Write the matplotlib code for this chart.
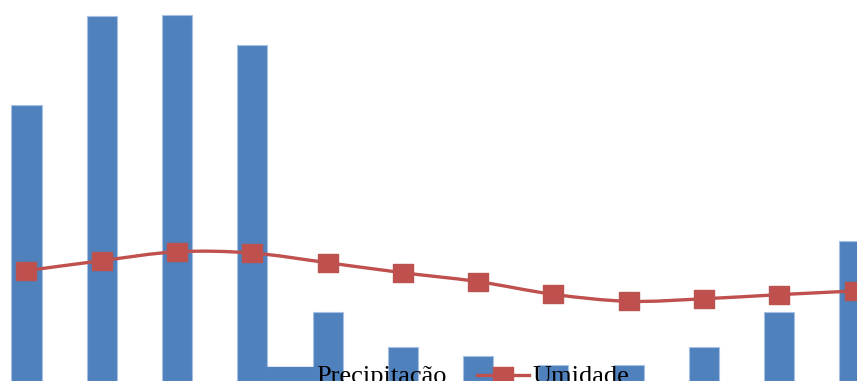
import matplotlib
matplotlib.use('Agg')
import matplotlib.pyplot as plt
from matplotlib.path import Path
from matplotlib.patches import PathPatch, Patch, Rectangle
from matplotlib.lines import Line2D
from matplotlib.legend_handler import HandlerPatch
from matplotlib.font_manager import FontProperties
import numpy as np

## dados
meses = ['Jan', 'Fev', 'Mar', 'Abr', 'Mai', 'Jun', 'Jul', 'Ago', 'Set', 'Out', 'Nov', 'Dez']
precipitacao = [290, 383, 384, 353, 72, 36, 26, 17, 17, 36, 72, 147]
umidade = [69.5, 75.8, 81.4, 80.6, 74.5, 68.2, 62.6, 54.6, 50.2, 51.8, 54.4, 56.7]
rotulos = ['Precipitação', 'Umidade']

azul = '#4F81BD'
borda = '#A7C0E3'
vermelho = '#C0504D'


def curva_suave(x, y):
    # linha suavizada estilo Excel (Bezier tipo Catmull-Rom)
    pts = np.column_stack([x, y]).astype(float)
    n = len(pts)
    verts = [pts[0]]
    codes = [Path.MOVETO]
    for i in range(n - 1):
        p0 = pts[i - 1] if i > 0 else pts[i]
        p3 = pts[i + 2] if i + 2 < n else pts[i + 1]
        c1 = pts[i] + (pts[i + 1] - p0) / 6
        c2 = pts[i + 1] - (p3 - pts[i]) / 6
        verts += [c1, c2, pts[i + 1]]
        codes += [Path.CURVE4] * 3
    return Path(verts, codes)


def patch_legenda(legend, orig_handle, xdescent, ydescent, width, height, fontsize):
    # retangulo um pouco mais curto que a linha, alinhado a direita
    w = 0.87 * width
    return Rectangle((-xdescent + width - w, -ydescent), w, height)


marcador = Path([(-1.2, -1), (1.2, -1), (1.2, 1), (-1.2, 1), (-1.2, -1)],
                [Path.MOVETO, Path.LINETO, Path.LINETO, Path.LINETO, Path.CLOSEPOLY])

fig = plt.figure(figsize=(8.57, 3.81), dpi=100)
ax = fig.add_axes([0, 0, 1, 1])
x = np.arange(len(meses))
ax.bar(x, precipitacao, width=0.4, color=azul, edgecolor=borda, linewidth=0.8, zorder=1)
ax.set_xlim(-0.352, 11.033)
ax.set_ylim(0, 400)
ax.axis('off')

ax2 = ax.twinx()
ax2.set_ylim(0, 240)
ax2.axis('off')
ax2.add_patch(PathPatch(curva_suave(x, umidade), facecolor='none', edgecolor=vermelho,
                        linewidth=2.4, zorder=2))
ax2.plot(x, umidade, linestyle='none', marker=marcador, markersize=15,
         color=vermelho, markeredgecolor='#B9534F', zorder=3)

handles = [Patch(facecolor=azul, edgecolor=azul),
           Line2D([], [], color=vermelho, lw=2.4, marker=marcador, markersize=14)]
fig.legend(handles, rotulos, loc='lower left', bbox_to_anchor=(260 / 857, -0.019),
           ncol=2, frameon=False, prop=FontProperties(family='Liberation Serif', size=19),
           handlelength=2.0, handleheight=0.4, handletextpad=0.12, columnspacing=1.14,
           borderpad=0, borderaxespad=0,
           handler_map={Patch: HandlerPatch(patch_func=patch_legenda)})

fig.savefig('out.png', dpi=100)
